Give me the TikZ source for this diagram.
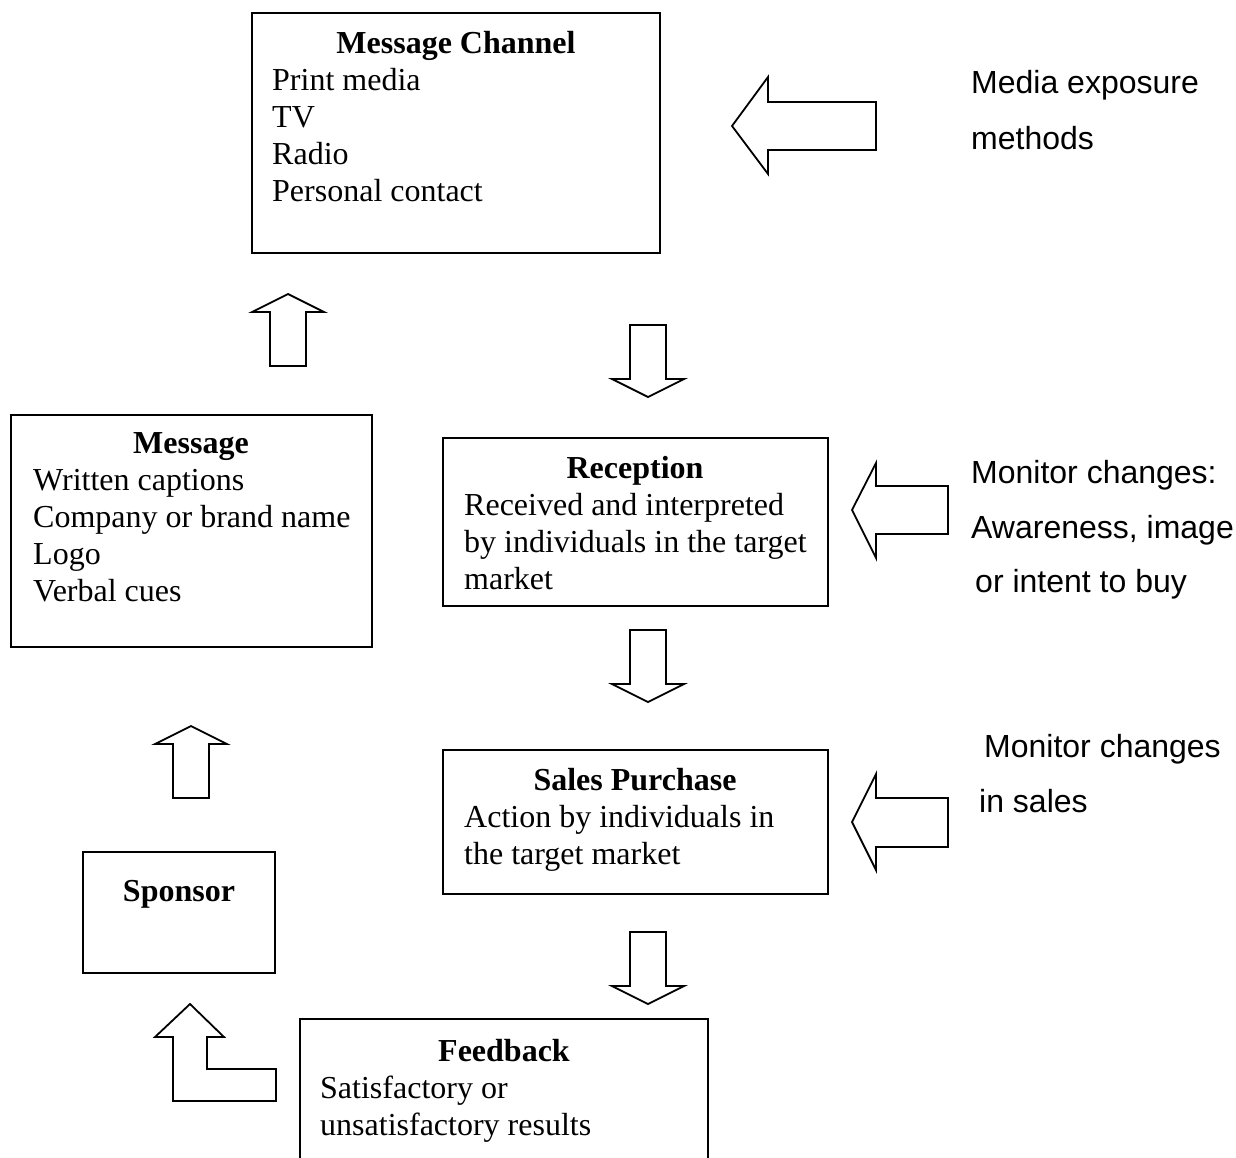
\documentclass[tikz,border=0pt]{standalone}
\usepackage{fontspec}
\setmainfont{Liberation Serif}
\newfontfamily\sidefont{Liberation Sans}
\begin{document}
\begin{tikzpicture}[x=1pt,y=-1pt,
  line/.style={line width=1.8pt, line join=miter},
  box/.style={draw, line width=1.8pt, inner sep=0pt, outer sep=0pt, anchor=north west},
  title/.style={anchor=base, inner sep=0pt, font=\bfseries\fontsize{32}{37}\selectfont},
  body/.style={anchor=base west, inner sep=0pt, font=\fontsize{32}{37}\selectfont},
  side/.style={anchor=base west, inner sep=0pt, font=\sidefont\fontsize{32}{37}\selectfont},
  blockarrow/.style={draw, line width=1.8pt, line join=miter, fill=white},
  pics/downblock/.style={code={
    \draw[blockarrow] (-18,0) -- (18,0) -- (18,54) -- (36,54) -- (0,72)
      -- (-36,54) -- (-18,54) -- cycle;}},
  pics/upblock/.style={code={
    \draw[blockarrow] (0,0) -- (36,18) -- (18,18) -- (18,72) -- (-18,72)
      -- (-18,18) -- (-36,18) -- cycle;}}
]
\useasboundingbox (0,0) rectangle (1236,1157);

% ---- boxes ----
\node[box, minimum width=408pt, minimum height=240pt] (mc) at (252,13) {};
\node[box, minimum width=361pt, minimum height=232pt] (msg) at (11,415) {};
\node[box, minimum width=385pt, minimum height=168pt] (rc) at (443,438) {};
\node[box, minimum width=385pt, minimum height=144pt] (sp) at (443,750) {};
\node[box, minimum width=192pt, minimum height=121pt] (sn) at (83,852) {};
\node[anchor=north west, inner sep=0pt, outer sep=0pt,
      minimum width=408pt, minimum height=150pt] (fb) at (300,1019) {};
\draw[line] (fb.south west) -- (fb.north west) -- (fb.north east) -- (fb.south east);

% ---- box texts ----
\node[title] (mc-t) at (456,53) {Message Channel};
\foreach \t [count=\i] in {Print media, TV, Radio, Personal contact}
  \node[body] (mc-\i) at (272,53+37*\i) {\t};

\node[title] (msg-t) at (191,453) {Message};
\foreach \t [count=\i] in {Written captions, Company or brand name, Logo, Verbal cues}
  \node[body] (msg-\i) at (33,453+37*\i) {\t};

\node[title] (rc-t) at (635,478) {Reception};
\foreach \t [count=\i] in {Received and interpreted, by individuals in the target, market}
  \node[body] (rc-\i) at (464,478+37*\i) {\t};

\node[title] (sp-t) at (635,790) {Sales Purchase};
\foreach \t [count=\i] in {Action by individuals in, the target market}
  \node[body] (sp-\i) at (464,790+37*\i) {\t};

\node[title] (sn-t) at (179,901) {Sponsor};

\node[title] (fb-t) at (504,1061) {Feedback};
\foreach \t [count=\i] in {Satisfactory or, unsatisfactory results}
  \node[body] (fb-\i) at (320,1061+37*\i) {\t};

% ---- side notes ----
\node[side] (me-1) at (971,93) {Media exposure};
\node[side] (me-2) at (971,149) {methods};
\node[side] (ma-1) at (971,483) {Monitor changes:};
\node[side] (ma-2) at (971,538) {Awareness, image};
\node[side] (ma-3) at (975,592) {or intent to buy};
\node[side] (ms-1) at (984,757) {Monitor changes};
\node[side] (ms-2) at (979,812) {in sales};

% ---- vertical block arrows ----
\pic at (288,294) {upblock};
\pic at (191,726) {upblock};
\pic at (648,325) {downblock};
\pic at (648,630) {downblock};
\pic at (648,932) {downblock};

% ---- horizontal block arrows ----
\draw[blockarrow] (732,126) -- (768,77) -- (768,102) -- (876,102) -- (876,150)
  -- (768,150) -- (768,174) -- cycle;
\draw[blockarrow] (852,510) -- (876,463) -- (876,486) -- (948,486) -- (948,534)
  -- (876,534) -- (876,558) -- cycle;
\draw[blockarrow] (852,822) -- (876,774) -- (876,798) -- (948,798) -- (948,847)
  -- (876,847) -- (876,870) -- cycle;

% ---- bent arrow from feedback back to sponsor ----
\draw[blockarrow] (190,1004) -- (224,1037) -- (207,1037) -- (207,1069) -- (276,1069)
  -- (276,1101) -- (173,1101) -- (173,1037) -- (155,1037) -- cycle;
\end{tikzpicture}
\end{document}
